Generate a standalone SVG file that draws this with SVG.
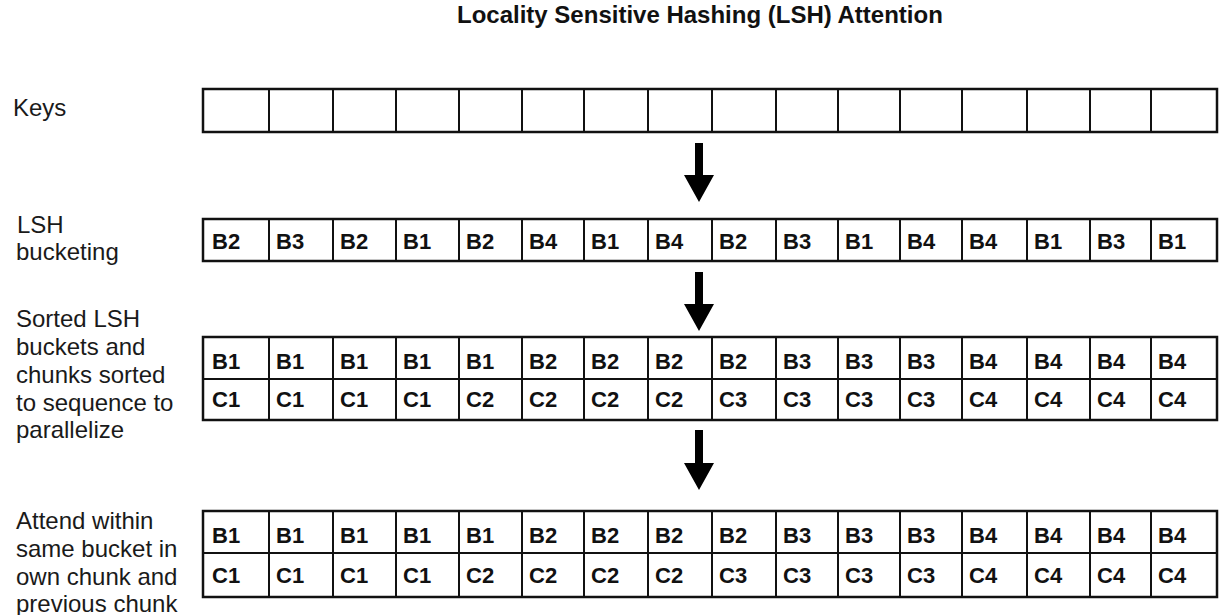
<svg xmlns="http://www.w3.org/2000/svg" width="1220" height="615" viewBox="0 0 1220 615">
<style>
.title{font-family:"Liberation Sans",Arial,sans-serif;font-weight:bold;font-size:24px;fill:#111}
.lbl{font-family:"Liberation Sans",Arial,sans-serif;font-size:24px;fill:#1a1a1a}
.cell{font-family:"Liberation Sans",Arial,sans-serif;font-weight:bold;font-size:22px;fill:#111}
.box{fill:#fff;stroke:#111;stroke-width:2.5}
.div{fill:none;stroke:#111;stroke-width:2}
.arrow{fill:#000}
</style>
<rect width="1220" height="615" fill="#fff"/>
<g id="title"><text class="title" x="457" y="23">Locality Sensitive Hashing (LSH) Attention</text></g>

<g id="label-keys"><text class="lbl" x="13" y="116">Keys</text></g>
<g id="label-lsh"><text class="lbl" x="17" y="233">LSH</text><text class="lbl" x="16" y="260">bucketing</text></g>
<g id="label-sorted">
<text class="lbl" x="16" y="327">Sorted LSH</text>
<text class="lbl" x="16" y="355">buckets and</text>
<text class="lbl" x="16" y="383">chunks sorted</text>
<text class="lbl" x="16" y="411">to sequence to</text>
<text class="lbl" x="16" y="438">parallelize</text>
</g>
<g id="label-attend">
<text class="lbl" x="16" y="529">Attend within</text>
<text class="lbl" x="16" y="557">same bucket in</text>
<text class="lbl" x="16" y="585">own chunk and</text>
<text class="lbl" x="16" y="612">previous chunk</text>
</g>

<g id="row-keys">
<rect class="box" x="203" y="89" width="1014" height="43"/>
<path class="div" d="M269 89V132M333 89V132M396 89V132M459 89V132M522 89V132M584 89V132M648 89V132M712 89V132M776 89V132M838 89V132M900 89V132M962 89V132M1027 89V132M1090 89V132M1151 89V132"/>
</g>

<g id="row-lsh">
<rect class="box" x="203" y="219" width="1014" height="42"/>
<path class="div" d="M269 219V261M333 219V261M396 219V261M459 219V261M522 219V261M584 219V261M648 219V261M712 219V261M776 219V261M838 219V261M900 219V261M962 219V261M1027 219V261M1090 219V261M1151 219V261"/>
<text class="cell" y="249"><tspan x="212">B2</tspan><tspan x="276">B3</tspan><tspan x="340">B2</tspan><tspan x="403">B1</tspan><tspan x="466">B2</tspan><tspan x="529">B4</tspan><tspan x="591">B1</tspan><tspan x="655">B4</tspan><tspan x="719">B2</tspan><tspan x="783">B3</tspan><tspan x="845">B1</tspan><tspan x="907">B4</tspan><tspan x="969">B4</tspan><tspan x="1034">B1</tspan><tspan x="1097">B3</tspan><tspan x="1158">B1</tspan></text>
</g>

<g id="row-sorted">
<rect class="box" x="203" y="337" width="1014" height="83"/>
<path class="div" d="M203 379H1217M269 337V420M333 337V420M396 337V420M459 337V420M522 337V420M584 337V420M648 337V420M712 337V420M776 337V420M838 337V420M900 337V420M962 337V420M1027 337V420M1090 337V420M1151 337V420"/>
<text class="cell" y="369"><tspan x="212">B1</tspan><tspan x="276">B1</tspan><tspan x="340">B1</tspan><tspan x="403">B1</tspan><tspan x="466">B1</tspan><tspan x="529">B2</tspan><tspan x="591">B2</tspan><tspan x="655">B2</tspan><tspan x="719">B2</tspan><tspan x="783">B3</tspan><tspan x="845">B3</tspan><tspan x="907">B3</tspan><tspan x="969">B4</tspan><tspan x="1034">B4</tspan><tspan x="1097">B4</tspan><tspan x="1158">B4</tspan></text>
<text class="cell" y="407"><tspan x="212">C1</tspan><tspan x="276">C1</tspan><tspan x="340">C1</tspan><tspan x="403">C1</tspan><tspan x="466">C2</tspan><tspan x="529">C2</tspan><tspan x="591">C2</tspan><tspan x="655">C2</tspan><tspan x="719">C3</tspan><tspan x="783">C3</tspan><tspan x="845">C3</tspan><tspan x="907">C3</tspan><tspan x="969">C4</tspan><tspan x="1034">C4</tspan><tspan x="1097">C4</tspan><tspan x="1158">C4</tspan></text>
</g>

<g id="row-attend">
<rect class="box" x="203" y="511" width="1014" height="86"/>
<path class="div" d="M203 553H1217M269 511V597M333 511V597M396 511V597M459 511V597M522 511V597M584 511V597M648 511V597M712 511V597M776 511V597M838 511V597M900 511V597M962 511V597M1027 511V597M1090 511V597M1151 511V597"/>
<text class="cell" y="543"><tspan x="212">B1</tspan><tspan x="276">B1</tspan><tspan x="340">B1</tspan><tspan x="403">B1</tspan><tspan x="466">B1</tspan><tspan x="529">B2</tspan><tspan x="591">B2</tspan><tspan x="655">B2</tspan><tspan x="719">B2</tspan><tspan x="783">B3</tspan><tspan x="845">B3</tspan><tspan x="907">B3</tspan><tspan x="969">B4</tspan><tspan x="1034">B4</tspan><tspan x="1097">B4</tspan><tspan x="1158">B4</tspan></text>
<text class="cell" y="583"><tspan x="212">C1</tspan><tspan x="276">C1</tspan><tspan x="340">C1</tspan><tspan x="403">C1</tspan><tspan x="466">C2</tspan><tspan x="529">C2</tspan><tspan x="591">C2</tspan><tspan x="655">C2</tspan><tspan x="719">C3</tspan><tspan x="783">C3</tspan><tspan x="845">C3</tspan><tspan x="907">C3</tspan><tspan x="969">C4</tspan><tspan x="1034">C4</tspan><tspan x="1097">C4</tspan><tspan x="1158">C4</tspan></text>
</g>

<g id="connectors">
<path class="arrow" d="M695 143H703V175H714L699 202L684 175H695Z"/>
<path class="arrow" d="M695 272H703V304H714L699 331L684 304H695Z"/>
<path class="arrow" d="M695 430H703V463H714L699 490L684 463H695Z"/>
</g>
</svg>
